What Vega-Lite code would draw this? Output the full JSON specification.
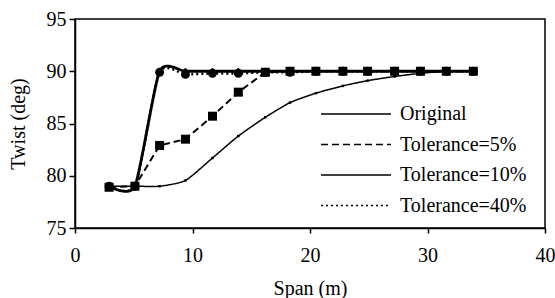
{
  "$schema": "https://vega.github.io/schema/vega-lite/v6.json",
  "width": 470,
  "height": 209,
  "autosize": "none",
  "padding": {"left": 75, "top": 19, "right": 10, "bottom": 70},
  "config": {
    "font": "serif",
    "view": {"stroke": "black", "strokeWidth": 1.5},
    "axis": {
      "domainColor": "black", "domainWidth": 1.5,
      "tickColor": "black", "tickWidth": 1.5,
      "labelColor": "black", "titleColor": "black",
      "labelFontSize": 20, "titleFontSize": 20, "titleFontWeight": "normal",
      "labelFont": "serif", "titleFont": "serif",
      "grid": false
    },
    "legend": {
      "orient": "none", "legendX": 245, "legendY": 82,
      "symbolSize": 4900, "clipHeight": 26, "rowPadding": 4.5,
      "labelFontSize": 20, "labelFont": "serif", "labelColor": "black",
      "labelOffset": 8, "padding": 0, "labelLimit": 300
    }
  },
  "data": {"values": [
    {"series": "Original", "span": 2.9, "twist": 79},
    {"series": "Original", "span": 5.1, "twist": 79},
    {"series": "Original", "span": 7.2, "twist": 79},
    {"series": "Original", "span": 9.4, "twist": 79.55},
    {"series": "Original", "span": 11.7, "twist": 81.7},
    {"series": "Original", "span": 13.9, "twist": 83.8},
    {"series": "Original", "span": 16.2, "twist": 85.6},
    {"series": "Original", "span": 18.3, "twist": 87.0},
    {"series": "Original", "span": 20.5, "twist": 87.9},
    {"series": "Original", "span": 22.8, "twist": 88.6},
    {"series": "Original", "span": 24.9, "twist": 89.1},
    {"series": "Original", "span": 27.2, "twist": 89.5},
    {"series": "Original", "span": 29.4, "twist": 89.8},
    {"series": "Original", "span": 31.6, "twist": 90},
    {"series": "Original", "span": 33.9, "twist": 90},
    {"series": "Tolerance=10%", "span": 2.9, "twist": 79},
    {"series": "Tolerance=10%", "span": 5.1, "twist": 79},
    {"series": "Tolerance=10%", "span": 7.2, "twist": 90},
    {"series": "Tolerance=10%", "span": 9.4, "twist": 90},
    {"series": "Tolerance=10%", "span": 11.7, "twist": 90},
    {"series": "Tolerance=10%", "span": 13.9, "twist": 90},
    {"series": "Tolerance=10%", "span": 16.2, "twist": 90},
    {"series": "Tolerance=10%", "span": 18.3, "twist": 90},
    {"series": "Tolerance=10%", "span": 20.5, "twist": 90},
    {"series": "Tolerance=10%", "span": 22.8, "twist": 90},
    {"series": "Tolerance=10%", "span": 24.9, "twist": 90},
    {"series": "Tolerance=10%", "span": 27.2, "twist": 90},
    {"series": "Tolerance=10%", "span": 29.4, "twist": 90},
    {"series": "Tolerance=10%", "span": 31.6, "twist": 90},
    {"series": "Tolerance=10%", "span": 33.9, "twist": 90},
    {"series": "Tolerance=40%", "span": 2.9, "twist": 79},
    {"series": "Tolerance=40%", "span": 5.1, "twist": 79},
    {"series": "Tolerance=40%", "span": 7.2, "twist": 89.9},
    {"series": "Tolerance=40%", "span": 9.4, "twist": 89.7},
    {"series": "Tolerance=40%", "span": 11.7, "twist": 89.8},
    {"series": "Tolerance=40%", "span": 13.9, "twist": 89.8},
    {"series": "Tolerance=40%", "span": 16.2, "twist": 89.9},
    {"series": "Tolerance=40%", "span": 18.3, "twist": 89.9},
    {"series": "Tolerance=40%", "span": 20.5, "twist": 90},
    {"series": "Tolerance=40%", "span": 22.8, "twist": 90},
    {"series": "Tolerance=40%", "span": 24.9, "twist": 90},
    {"series": "Tolerance=40%", "span": 27.2, "twist": 90},
    {"series": "Tolerance=40%", "span": 29.4, "twist": 90},
    {"series": "Tolerance=40%", "span": 31.6, "twist": 90},
    {"series": "Tolerance=40%", "span": 33.9, "twist": 90},
    {"series": "Tolerance=5%", "span": 2.9, "twist": 78.9},
    {"series": "Tolerance=5%", "span": 5.1, "twist": 79.0},
    {"series": "Tolerance=5%", "span": 7.2, "twist": 82.9},
    {"series": "Tolerance=5%", "span": 9.4, "twist": 83.5},
    {"series": "Tolerance=5%", "span": 11.7, "twist": 85.7},
    {"series": "Tolerance=5%", "span": 13.9, "twist": 88.0},
    {"series": "Tolerance=5%", "span": 16.2, "twist": 89.9},
    {"series": "Tolerance=5%", "span": 18.3, "twist": 90},
    {"series": "Tolerance=5%", "span": 20.5, "twist": 90},
    {"series": "Tolerance=5%", "span": 22.8, "twist": 90},
    {"series": "Tolerance=5%", "span": 24.9, "twist": 90},
    {"series": "Tolerance=5%", "span": 27.2, "twist": 90},
    {"series": "Tolerance=5%", "span": 29.4, "twist": 90},
    {"series": "Tolerance=5%", "span": 31.6, "twist": 90},
    {"series": "Tolerance=5%", "span": 33.9, "twist": 90}
  ]},
  "encoding": {
    "x": {"field": "span", "type": "quantitative", "scale": {"domain": [0, 40]},
      "axis": {"values": [0, 10, 20, 30, 40], "title": "Span (m)", "tickSize": 5, "labelPadding": 12, "titlePadding": 13, "labelFlush": false}},
    "y": {"field": "twist", "type": "quantitative", "scale": {"domain": [75, 95]},
      "axis": {"values": [75, 80, 85, 90, 95], "title": "Twist (deg)", "tickSize": 6, "labelPadding": 3, "titlePadding": 18}}
  },
  "layer": [
    {
      "mark": {"type": "line", "interpolate": "cardinal", "tension": 0.4, "color": "black", "strokeWidth": 1.5},
      "transform": [{"filter": "datum.series === 'Original'"}],
      "encoding": {
        "strokeDash": {"field": "series", "type": "nominal",
          "scale": {"domain": ["Original", "Tolerance=5%", "Tolerance=10%", "Tolerance=40%"], "range": [[1, 0], [7, 4], [1, 0], [2, 3]]},
          "legend": {"title": null, "encode": {"symbols": {
            "shape": {"value": {"expr": "datum.value === 'Tolerance=5%' ? 'M-1,0H1M-0.14,-0.14H0.14V0.14H-0.14Z' : datum.value === 'Tolerance=10%' ? 'M-1,0H1M0,-0.11L0.11,0L0,0.11L-0.11,0Z' : datum.value === 'Tolerance=40%' ? 'M-1,0H1M-0.13,0A0.13,0.13,0,1,0,0.13,0A0.13,0.13,0,1,0,-0.13,0Z' : 'M-1,0H1M-0.04,-0.04H0.04V0.04H-0.04Z'"}},
            "strokeWidth": {"value": {"expr": "datum.value === 'Tolerance=10%' ? 2.8 : datum.value === 'Tolerance=40%' ? 2.6 : datum.value === 'Tolerance=5%' ? 2 : 1.5"}},
            "size": {"value": 4900},
            "fill": {"value": "black"}, "fillOpacity": {"value": 1}, "stroke": {"value": "black"}}}}}
      }
    },
    {
      "mark": {"type": "line", "interpolate": "cardinal", "tension": 0.4, "color": "black", "strokeWidth": 2.8},
      "transform": [{"filter": "datum.series === 'Tolerance=10%'"}],
      "encoding": {
        "strokeDash": {"field": "series", "type": "nominal",
          "legend": {"title": null, "encode": {"symbols": {
            "shape": {"value": {"expr": "datum.value === 'Tolerance=5%' ? 'M-1,0H1M-0.14,-0.14H0.14V0.14H-0.14Z' : datum.value === 'Tolerance=10%' ? 'M-1,0H1M0,-0.11L0.11,0L0,0.11L-0.11,0Z' : datum.value === 'Tolerance=40%' ? 'M-1,0H1M-0.13,0A0.13,0.13,0,1,0,0.13,0A0.13,0.13,0,1,0,-0.13,0Z' : 'M-1,0H1M-0.04,-0.04H0.04V0.04H-0.04Z'"}},
            "strokeWidth": {"value": {"expr": "datum.value === 'Tolerance=10%' ? 2.8 : datum.value === 'Tolerance=40%' ? 2.6 : datum.value === 'Tolerance=5%' ? 2 : 1.5"}},
            "size": {"value": 4900},
            "fill": {"value": "black"}, "fillOpacity": {"value": 1}, "stroke": {"value": "black"}}}}}
      }
    },
    {
      "mark": {"type": "line", "interpolate": "cardinal", "tension": 0.4, "color": "black", "strokeWidth": 2.6},
      "transform": [{"filter": "datum.series === 'Tolerance=40%'"}],
      "encoding": {
        "strokeDash": {"field": "series", "type": "nominal",
          "legend": {"title": null, "encode": {"symbols": {
            "shape": {"value": {"expr": "datum.value === 'Tolerance=5%' ? 'M-1,0H1M-0.14,-0.14H0.14V0.14H-0.14Z' : datum.value === 'Tolerance=10%' ? 'M-1,0H1M0,-0.11L0.11,0L0,0.11L-0.11,0Z' : datum.value === 'Tolerance=40%' ? 'M-1,0H1M-0.13,0A0.13,0.13,0,1,0,0.13,0A0.13,0.13,0,1,0,-0.13,0Z' : 'M-1,0H1M-0.04,-0.04H0.04V0.04H-0.04Z'"}},
            "strokeWidth": {"value": {"expr": "datum.value === 'Tolerance=10%' ? 2.8 : datum.value === 'Tolerance=40%' ? 2.6 : datum.value === 'Tolerance=5%' ? 2 : 1.5"}},
            "size": {"value": 4900},
            "fill": {"value": "black"}, "fillOpacity": {"value": 1}, "stroke": {"value": "black"}}}}}
      }
    },
    {
      "mark": {"type": "line", "interpolate": "linear", "color": "black", "strokeWidth": 2},
      "transform": [{"filter": "datum.series === 'Tolerance=5%'"}],
      "encoding": {
        "strokeDash": {"field": "series", "type": "nominal",
          "legend": {"title": null, "encode": {"symbols": {
            "shape": {"value": {"expr": "datum.value === 'Tolerance=5%' ? 'M-1,0H1M-0.14,-0.14H0.14V0.14H-0.14Z' : datum.value === 'Tolerance=10%' ? 'M-1,0H1M0,-0.11L0.11,0L0,0.11L-0.11,0Z' : datum.value === 'Tolerance=40%' ? 'M-1,0H1M-0.13,0A0.13,0.13,0,1,0,0.13,0A0.13,0.13,0,1,0,-0.13,0Z' : 'M-1,0H1M-0.04,-0.04H0.04V0.04H-0.04Z'"}},
            "strokeWidth": {"value": {"expr": "datum.value === 'Tolerance=10%' ? 2.8 : datum.value === 'Tolerance=40%' ? 2.6 : datum.value === 'Tolerance=5%' ? 2 : 1.5"}},
            "size": {"value": 4900},
            "fill": {"value": "black"}, "fillOpacity": {"value": 1}, "stroke": {"value": "black"}}}}}
      }
    },
    {
      "transform": [{"filter": "datum.series === 'Original'"}],
      "mark": {"type": "point", "filled": true, "color": "black", "opacity": 1, "shape": "square", "size": 6}
    },
    {
      "transform": [{"filter": "datum.series === 'Tolerance=10%'"}],
      "mark": {"type": "point", "filled": true, "color": "black", "opacity": 1, "shape": "diamond", "size": 50}
    },
    {
      "transform": [{"filter": "datum.series === 'Tolerance=40%'"}],
      "mark": {"type": "point", "filled": true, "color": "black", "opacity": 1, "shape": "circle", "size": 80}
    },
    {
      "transform": [{"filter": "datum.series === 'Tolerance=5%'"}],
      "mark": {"type": "point", "filled": true, "color": "black", "opacity": 1, "shape": "square", "size": 81}
    }
  ]
}
